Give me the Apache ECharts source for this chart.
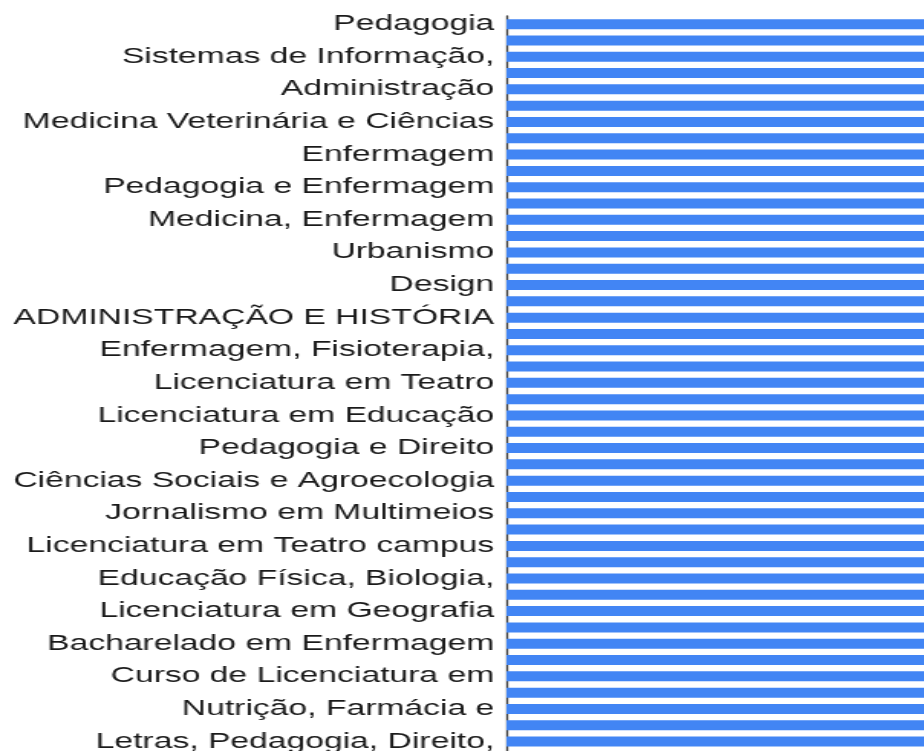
<!DOCTYPE html>
<html>
<head>
<meta charset="utf-8">
<script src="https://cdn.jsdelivr.net/npm/echarts@6/dist/echarts.min.js"></script>
<style>
  html, body { margin: 0; padding: 0; background: #fff; overflow: hidden; }
  #main {
    width: 604px;
    height: 751px;
    transform: scaleX(1.53);
    transform-origin: 0 0;
  }
</style>
</head>
<body>
<div id="main"></div>
<script>
// rótulos visíveis (um a cada duas barras)
const shownLabels = [
  'Pedagogia',
  'Sistemas de Informação,',
  'Administração',
  'Medicina Veterinária e Ciências',
  'Enfermagem',
  'Pedagogia e Enfermagem',
  'Medicina, Enfermagem',
  'Urbanismo',
  'Design',
  'ADMINISTRAÇÃO E HISTÓRIA',
  'Enfermagem, Fisioterapia,',
  'Licenciatura em Teatro',
  'Licenciatura em Educação',
  'Pedagogia e Direito',
  'Ciências Sociais e Agroecologia',
  'Jornalismo em Multimeios',
  'Licenciatura em Teatro campus',
  'Educação Física, Biologia,',
  'Licenciatura em Geografia',
  'Bacharelado em Enfermagem',
  'Curso de Licenciatura em',
  'Nutrição, Farmácia e',
  'Letras, Pedagogia, Direito,'
];
// respostas por curso (todas cortadas na borda direita)
const counts = [
  1, 1, 1, 1, 1, 1, 1, 1, 1, 1,
  1, 1, 1, 1, 1, 1, 1, 1, 1, 1,
  1, 1, 1, 1, 1, 1, 1, 1, 1, 1,
  1, 1, 1, 1, 1, 1, 1, 1, 1, 1,
  1, 1, 1, 1, 1, 1
];

// categorias: rótulo visível seguido de uma categoria sem rótulo legível
let categories = [];
shownLabels.forEach((v) => {
  categories.push(v);
  categories.push('');
});

const chart = echarts.init(document.getElementById('main'));
const option = {
  animation: false,
  grid: {
    left: 331,
    right: -20,
    top: 16,
    bottom: -15,
    outerBoundsMode: 'none',
    containLabel: false
  },
  xAxis: {
    type: 'value',
    min: 0,
    max: 1,
    show: false
  },
  yAxis: {
    type: 'category',
    inverse: true,
    data: categories,
    axisLine: { show: true, lineStyle: { color: '#333', width: 1.3 } },
    axisTick: { show: false },
    axisLabel: {
      interval: 1,
      margin: 8,
      color: '#1a1a1a',
      fontSize: 22,
      fontFamily: 'Liberation Sans, Arial, sans-serif'
    }
  },
  series: [{
    type: 'bar',
    data: counts,
    barWidth: 10,
    itemStyle: { color: '#4285F4' }
  }]
};
chart.setOption(option);
</script>
</body>
</html>
